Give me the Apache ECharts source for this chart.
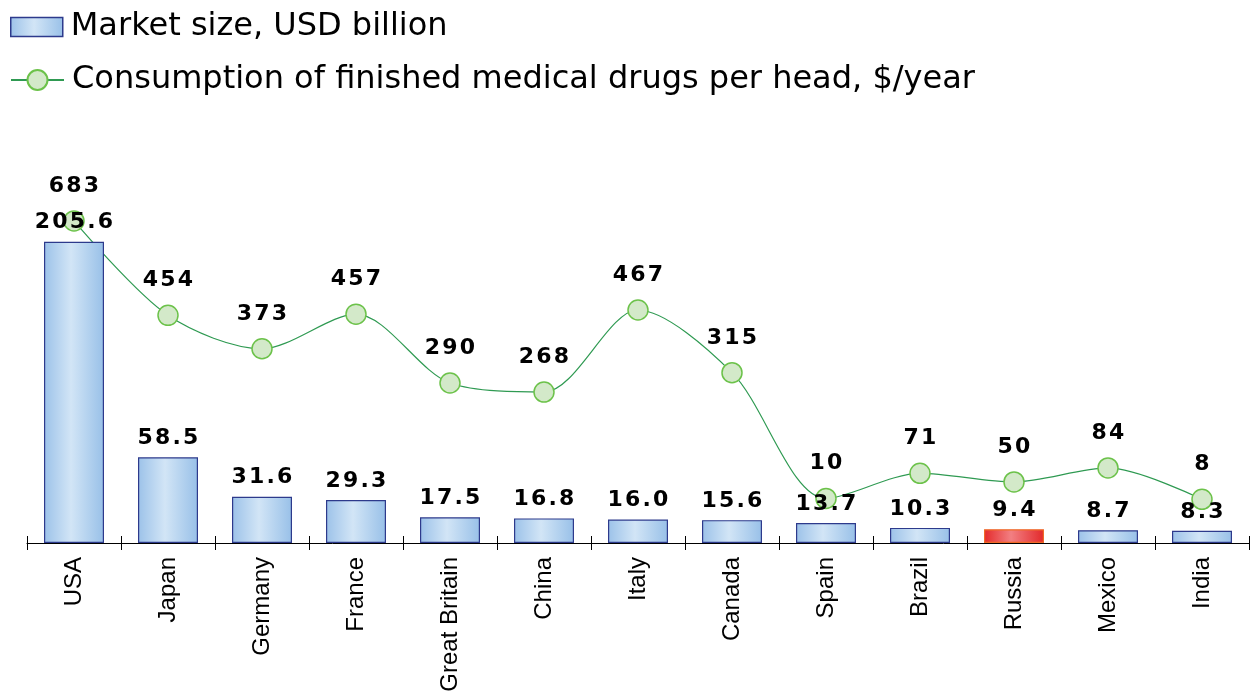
<!DOCTYPE html>
<html><head><meta charset="utf-8">
<script src="https://cdn.jsdelivr.net/npm/echarts@6/dist/echarts.min.js"></script>
<style>html,body{margin:0;padding:0;background:#fff}#c{width:1258px;height:695px}</style>
</head><body><div id="c"></div>
<script>
const categories = ['USA','Japan','Germany','France','Great Britain','China','Italy','Canada','Spain','Brazil','Russia','Mexico','India'];
const marketSize = [205.6, 58.5, 31.6, 29.3, 17.5, 16.8, 16.0, 15.6, 13.7, 10.3, 9.4, 8.7, 8.3];
const consumption = [683, 454, 373, 457, 290, 268, 467, 315, 10, 71, 50, 84, 8];
const barName = 'Market size, USD billion';
const lineName = 'Consumption of finished medical drugs per head, $/year';
const highlight = 'Russia';

const blueGrad = new echarts.graphic.LinearGradient(0,0,1,0,[
  {offset:0,color:'#9cc2e9'},{offset:0.45,color:'#d2e5f6'},{offset:1,color:'#98c0e8'}]);
const redGrad = new echarts.graphic.LinearGradient(0,0,1,0,[
  {offset:0,color:'#e42a2a'},{offset:0.45,color:'#f27f82'},{offset:1,color:'#e2282a'}]);

const spaced = s => String(s).split('').join('\u200A');
const barLabelFmt = p => spaced(p.value.toFixed(1));
const lineLabelFmt = p => spaced(p.value);

const labelFont = {fontFamily:'DejaVu Sans', fontWeight:'bold', fontSize:22, color:'#000'};
const legendText = {fontFamily:'DejaVu Sans', fontSize:32, color:'#000', padding:[0,0,0,3]};

const chart = echarts.init(document.getElementById('c'), null, {renderer:'canvas'});
const gridRect = {left:27, right:9, top:143, bottom:152};
chart.setOption({
  animation:false,
  backgroundColor:'#fff',
  legend:[
    {left:10, top:11, padding:0, itemWidth:52, itemHeight:19, textStyle:legendText,
     data:[{name:barName, icon:'rect', itemStyle:{color:blueGrad, borderColor:'#2d3a8c', borderWidth:1.5}}]},
    {left:10, top:64, padding:0, itemWidth:53, itemHeight:25, textStyle:legendText,
     data:[{name:lineName}]}
  ],
  grid:[Object.assign({}, gridRect), Object.assign({}, gridRect)],
  xAxis:[
    {type:'category', data:categories, gridIndex:0, boundaryGap:true,
     axisLine:{lineStyle:{color:'#000', width:1}},
     axisTick:{show:true, inside:false, length:7, lineStyle:{color:'#000'}},
     axisLabel:{rotate:90, margin:14, fontFamily:'Liberation Sans', fontSize:24, color:'#000'}},
    {type:'category', data:categories, gridIndex:1, boundaryGap:true,
     axisLine:{show:false},
     axisTick:{show:true, inside:true, length:7, lineStyle:{color:'#000'}},
     axisLabel:{show:false}}
  ],
  yAxis:[
    {type:'value', gridIndex:0, min:0, max:273, show:false, splitLine:{show:false}},
    {type:'value', gridIndex:0, min:-98, max:872, show:false, splitLine:{show:false}},
    {type:'value', gridIndex:1, min:0, max:1, show:false, splitLine:{show:false}}
  ],
  series:[
    {name:barName, type:'bar', xAxisIndex:0, yAxisIndex:0, barWidth:60,
     data: marketSize.map((v,i)=>({value:v, itemStyle: categories[i]===highlight ?
        {color:redGrad, borderColor:'#f06a28', borderWidth:1.2} :
        {color:blueGrad, borderColor:'#2d3a8c', borderWidth:1.2}})),
     itemStyle:{color:blueGrad, borderColor:'#2d3a8c', borderWidth:1.2},
     label:Object.assign({show:true, position:'top', distance:8, formatter:barLabelFmt}, labelFont),
     z:4},
    {name:lineName, type:'line', xAxisIndex:0, yAxisIndex:1, data:consumption, smooth:0.3,
     symbol:'circle', symbolSize:20,
     lineStyle:{color:'#2f9a52', width:1.2},
     itemStyle:{color:'#d3e9c9', borderColor:'#6cc24a', borderWidth:1.5},
     label:Object.assign({show:true, position:'top', distance:13, formatter:lineLabelFmt}, labelFont),
     z:3}
  ]
});
</script></body></html>
